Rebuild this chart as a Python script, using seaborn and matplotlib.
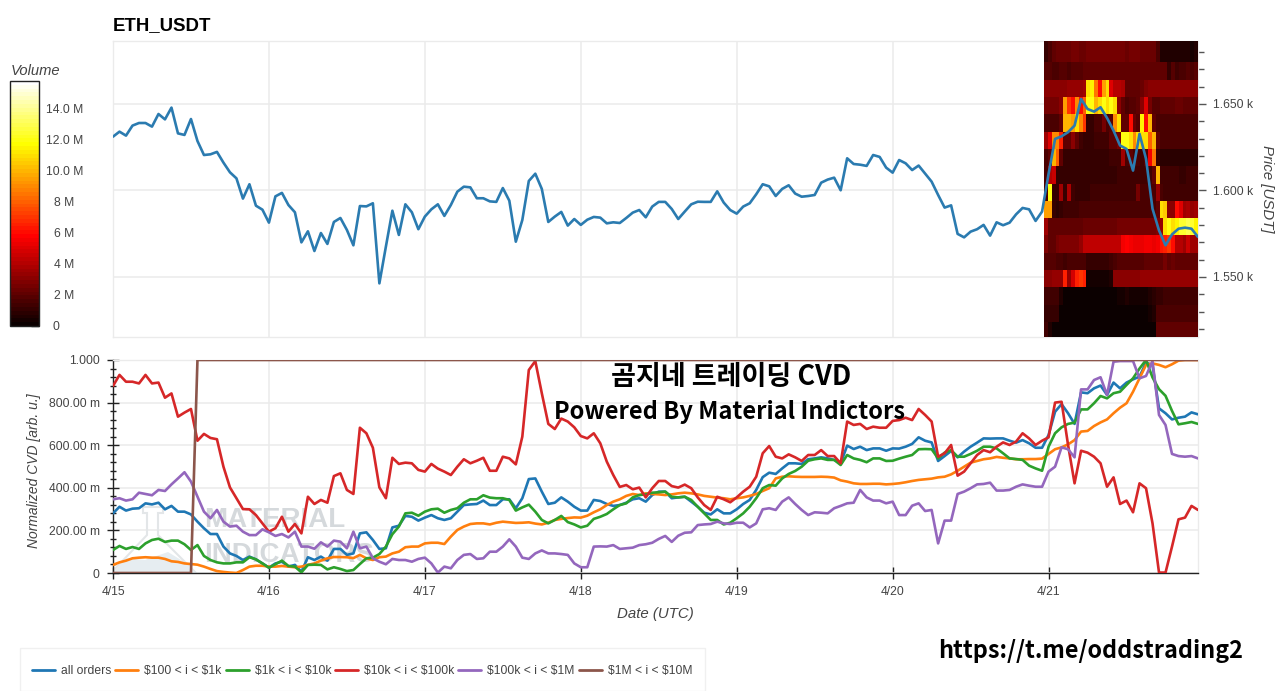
import numpy as np
import pandas as pd
import matplotlib
matplotlib.use('Agg')
import matplotlib.pyplot as plt
from matplotlib.patches import Polygon, Rectangle
from matplotlib.transforms import ScaledTranslation
import seaborn as sns

W, H = 1280, 691

sns.set_theme(style='white')
plt.rcParams['font.family'] = ['Liberation Sans', 'Noto Sans CJK KR', 'DejaVu Sans']

day_labels = ['4/15', '4/16', '4/17', '4/18', '4/19', '4/20', '4/21']

# hourly close, USDT
price = [
    1631.1, 1634.0, 1631.7, 1637.5, 1639.0, 1639.0, 1636.9, 1644.2, 1641.1, 1647.9, 1633.0, 1632.1,
    1641.3, 1628.6, 1620.5, 1620.9, 1622.3, 1616.1, 1610.5, 1607.0, 1595.3, 1603.6, 1591.2, 1588.9,
    1581.4, 1596.6, 1598.6, 1591.6, 1587.4, 1570.0, 1576.4, 1565.0, 1575.4, 1569.1, 1581.8, 1584.1,
    1577.2, 1568.3, 1591.0, 1590.8, 1592.6, 1546.3, 1567.5, 1588.3, 1574.3, 1592.0, 1587.4, 1577.6,
    1584.9, 1589.1, 1592.0, 1585.3, 1591.6, 1599.3, 1602.2, 1601.8, 1595.5, 1595.5, 1593.7, 1593.4,
    1601.4, 1594.1, 1570.4, 1582.9, 1605.5, 1609.7, 1600.9, 1581.8, 1584.9, 1587.6, 1579.7, 1583.5,
    1580.1, 1583.1, 1584.7, 1584.3, 1581.0, 1581.6, 1581.2, 1584.1, 1587.2, 1588.7, 1584.5, 1590.7,
    1593.4, 1593.4, 1589.3, 1583.5, 1587.8, 1592.0, 1593.5, 1593.4, 1593.4, 1599.5, 1593.0, 1588.7,
    1586.6, 1590.7, 1592.6, 1597.8, 1603.6, 1602.4, 1596.8, 1600.9, 1603.0, 1598.2, 1596.4, 1596.8,
    1597.4, 1604.5, 1606.3, 1607.4, 1600.1, 1618.6, 1615.3, 1614.9, 1614.2, 1620.5, 1619.4, 1613.2,
    1610.3, 1617.6, 1615.7, 1611.8, 1614.4, 1609.7, 1605.1, 1597.4, 1590.1, 1591.4, 1574.9, 1572.9,
    1576.2, 1577.6, 1580.1, 1573.9, 1581.6, 1579.9, 1581.4, 1586.2, 1589.9, 1589.1, 1582.4, 1587.8,
    1609.6, 1629.8, 1631.3, 1633.7, 1637.5, 1652.9, 1647.1, 1645.6, 1648.1, 1641.9, 1634.6, 1626.0,
    1624.0, 1611.5, 1632.7, 1618.3, 1589.4, 1576.9, 1568.3, 1574.6, 1577.9, 1578.5, 1577.9, 1573.1,
]

# normalized CVD, in milli units
all_orders = [
    280, 311, 293, 302, 304, 327, 322, 330, 299, 315, 288, 288, 275, 241, 210, 183, 183, 124, 92, 80, 61, 77, 64, 45,
    25, 45, 53, 30, 38, 6, 74, 61, 77, 58, 113, 113, 85, 92, 186, 191, 155, 113, 116, 214, 222, 268, 264, 246,
    260, 272, 257, 249, 257, 288, 319, 322, 324, 340, 319, 319, 346, 346, 304, 351, 441, 444, 382, 324, 330, 355, 335, 311,
    293, 293, 343, 338, 324, 315, 319, 330, 346, 351, 335, 366, 382, 382, 351, 355, 358, 335, 311, 283, 275, 299, 280, 280,
    299, 324, 343, 390, 450, 471, 465, 491, 515, 515, 512, 534, 538, 543, 538, 531, 515, 598, 582, 593, 577, 585, 585, 574,
    585, 584, 593, 606, 637, 621, 613, 526, 549, 573, 543, 570, 593, 612, 632, 631, 632, 632, 621, 612, 624, 609, 588, 588,
    648, 757, 793, 750, 700, 848, 844, 867, 880, 836, 894, 867, 894, 909, 922, 988, 975, 773, 750, 721, 729, 734, 754, 745,
]
band_100_1k = [
    38, 50, 58, 69, 72, 74, 72, 72, 66, 55, 52, 45, 42, 39, 30, 19, 9, 5, 2, 0, 14, 30, 34, 34,
    30, 30, 33, 30, 27, 30, 38, 45, 58, 69, 75, 75, 74, 70, 85, 69, 61, 74, 77, 92, 100, 121, 124, 124,
    139, 142, 142, 136, 171, 202, 218, 230, 233, 233, 228, 236, 241, 238, 235, 236, 238, 232, 228, 236, 249, 254, 258, 261,
    260, 269, 285, 299, 319, 335, 346, 362, 371, 366, 374, 371, 369, 366, 369, 374, 377, 374, 369, 362, 358, 354, 351, 346,
    351, 355, 362, 371, 385, 398, 444, 452, 454, 452, 451, 451, 451, 452, 451, 448, 435, 429, 421, 418, 418, 419, 419, 416,
    418, 421, 426, 432, 437, 440, 443, 449, 452, 463, 480, 499, 518, 526, 534, 538, 545, 541, 538, 534, 534, 535, 535, 537,
    559, 581, 590, 604, 624, 664, 667, 690, 707, 721, 750, 776, 797, 851, 914, 977, 984, 977, 966, 980, 997, 1000, 1000, 1000,
]
band_1k_10k = [
    108, 127, 113, 122, 113, 139, 155, 161, 146, 152, 152, 135, 108, 131, 80, 61, 50, 45, 45, 50, 50, 74, 64, 45,
    25, 41, 58, 33, 30, 3, 38, 39, 38, 17, 27, 19, 9, 14, 42, 69, 72, 89, 124, 182, 218, 280, 283, 269,
    288, 299, 302, 283, 296, 304, 330, 346, 346, 365, 354, 351, 351, 343, 293, 308, 321, 288, 249, 233, 249, 268, 239, 228,
    214, 222, 254, 264, 277, 299, 319, 327, 355, 366, 369, 377, 379, 382, 358, 355, 358, 343, 311, 280, 249, 249, 228, 236,
    257, 280, 311, 351, 398, 413, 410, 444, 465, 479, 499, 527, 534, 538, 531, 531, 507, 554, 538, 531, 520, 538, 538, 526,
    527, 537, 546, 554, 581, 582, 581, 538, 565, 577, 546, 546, 559, 574, 593, 593, 585, 562, 538, 535, 531, 504, 491, 480,
    593, 656, 684, 700, 706, 768, 768, 797, 831, 820, 844, 851, 883, 914, 960, 1000, 918, 863, 832, 761, 698, 703, 709, 700,
]
band_10k_100k = [
    878, 930, 898, 898, 890, 930, 890, 894, 823, 843, 734, 753, 770, 621, 653, 634, 628, 499, 402, 351, 300, 299, 272, 233,
    194, 210, 264, 194, 230, 186, 358, 324, 343, 330, 455, 468, 390, 371, 682, 656, 588, 402, 351, 541, 512, 518, 515, 484,
    476, 512, 490, 476, 460, 499, 534, 515, 527, 541, 480, 480, 546, 538, 510, 640, 953, 995, 844, 700, 676, 725, 711, 684,
    643, 632, 656, 609, 523, 460, 404, 413, 393, 401, 355, 398, 432, 432, 408, 401, 415, 398, 355, 319, 296, 358, 346, 332,
    355, 382, 405, 452, 562, 596, 546, 538, 557, 543, 526, 554, 554, 577, 549, 549, 515, 711, 695, 700, 676, 687, 682, 682,
    714, 718, 729, 718, 770, 742, 711, 546, 562, 601, 457, 476, 515, 554, 577, 567, 593, 613, 601, 617, 656, 632, 601, 621,
    637, 800, 804, 601, 421, 574, 565, 546, 515, 405, 449, 324, 340, 285, 421, 398, 233, 2, 2, 124, 252, 260, 315, 296,
]
band_100k_1m = [
    346, 351, 340, 346, 377, 371, 365, 390, 385, 416, 444, 473, 429, 358, 288, 257, 296, 241, 218, 222, 194, 178, 178, 205,
    191, 174, 183, 167, 194, 124, 124, 114, 144, 124, 152, 147, 116, 194, 116, 124, 69, 53, 41, 66, 61, 61, 53, 66,
    72, 45, 2, 30, 22, 61, 85, 89, 66, 69, 100, 100, 124, 158, 124, 72, 66, 92, 106, 92, 92, 89, 85, 45,
    27, 27, 124, 125, 124, 131, 113, 116, 119, 131, 135, 142, 160, 174, 146, 175, 189, 191, 225, 228, 230, 241, 233, 230,
    236, 236, 214, 233, 299, 304, 296, 335, 355, 324, 296, 272, 285, 283, 280, 304, 315, 327, 330, 390, 355, 340, 340, 327,
    335, 272, 272, 316, 327, 291, 296, 139, 246, 246, 371, 382, 398, 416, 418, 424, 387, 387, 390, 405, 416, 410, 405, 405,
    476, 499, 590, 581, 543, 862, 862, 906, 919, 836, 992, 995, 995, 995, 914, 925, 995, 742, 695, 559, 549, 546, 549, 538,
]
band_1m_10m = [0] * 13 + [1000] * 155

band_names = ['all orders', r'\$100 < i < \$1k', r'\$1k < i < \$10k',
              r'\$10k < i < \$100k', r'\$100k < i < \$1M', r'\$1M < i < \$10M']
band_colors = ['#1f77b4', '#ff7f0e', '#2ca02c', '#d62728', '#9467bd', '#8c564b']

# volume profile on the last day, M USDT, one row per 10 USDT bin from the top
vol_1675 = [1.0, 1.5, 2.2, 2.4, 2.4, 2.3, 2.4, 2.5, 2.5, 2.3, 2.3, 2.5, 2.5, 2.7, 2.7, 2.7, 2.6, 2.6, 2.5, 2.5,
            2.5, 2.3, 2.5, 2.5, 2.5, 2.4, 2.4, 2.4, 2.3, 1.5, 0.6, 0.5, 0.5, 0.6, 0.6, 0.6, 0.6, 0.6, 0.4, 0.5]
vol_1665 = [1.8, 1.8, 1.7, 1.7, 1.8, 1.8, 1.7, 1.8, 1.8, 1.9, 2.0, 2.1, 2.1, 2.0, 2.0, 2.0, 2.0, 2.1, 2.0, 2.0,
            2.0, 2.0, 2.0, 2.0, 2.1, 2.1, 2.1, 2.1, 2.1, 2.0, 2.0, 2.0, 1.2, 1.8, 1.3, 1.5, 1.6, 1.8, 1.5, 1.8]
vol_1655 = [3.0, 3.0, 3.0, 3.0, 3.0, 3.0, 3.2, 3.2, 3.2, 3.2, 3.5, 11, 11.5, 8.5, 6.0, 9.5, 11, 5.0, 4.0, 4.0,
            3.8, 2.0, 2.0, 2.0, 2.2, 2.4, 2.8, 3.0, 3.0, 3.0, 3.0, 3.0, 3.0, 3.0, 3.0, 3.0, 3.0, 3.0, 3.0, 3.0]
vol_1645 = [2.5, 2.6, 2.6, 2.6, 3.0, 9.5, 7, 6, 9, 6, 8, 12, 12, 10, 11, 12, 11, 12, 11, 3.0,
            2.0, 1.5, 1.8, 1.8, 2.0, 3.0, 5.0, 2.5, 1.8, 1.8, 2.2, 2.2, 2.2, 2.2, 2.3, 2.4, 2.2, 2.2, 2.2, 2.2]
vol_1635 = [1.5, 1.5, 1.5, 1.6, 2.0, 10, 10, 9.5, 11, 9, 7, 1.2, 1.2, 1.5, 1.5, 2.5, 1.5, 1.8, 9, 11,
            2.2, 2.2, 6, 2.4, 1.8, 11.5, 6, 10, 2.0, 1.6, 1.6, 1.6, 1.6, 1.6, 1.6, 1.6, 1.6, 1.6, 1.6, 1.6]
vol_1625 = [3.5, 5, 9, 9, 6.5, 2.2, 2.0, 3.0, 2.0, 1.3, 1.2, 1.2, 1.2, 1.3, 1.3, 1.3, 1.3, 2.0, 2.2, 2.5,
            12, 12, 11, 9, 11, 11, 11, 8, 10, 2, 1.5, 1.5, 1.5, 1.5, 1.5, 1.5, 1.5, 1.5, 1.5, 1.5]
vol_1615 = [1.5, 2.0, 10, 8, 2.0, 1.2, 1.2, 1.2, 1.2, 1.2, 1.2, 1.2, 1.2, 1.2, 1.2, 1.2, 1.2, 1.3, 1.3, 1.4,
            3.5, 1.5, 2.0, 1.5, 1.5, 1.4, 1.8, 5.5, 8.5, 1.2, 0.9, 0.9, 0.9, 0.9, 0.9, 0.9, 0.9, 0.9, 0.9, 0.9]
vol_1605 = [1.5, 4, 4.5, 1.0, 1.0, 1.2, 1.1, 1.1, 1.1, 1.1, 1.2, 1.2, 1.2, 1.2, 1.2, 1.2, 1.2, 1.2, 1.2, 1.3,
            1.3, 1.3, 1.3, 1.3, 1.3, 1.3, 1.3, 1.3, 2.0, 10, 1.3, 1.3, 1.3, 1.3, 1.3, 1.2, 1.2, 1.3, 1.3, 1.3]
vol_1595 = [1.5, 12, 1.0, 1.0, 3.5, 1.0, 3.8, 1.4, 1.2, 1.2, 1.2, 1.2, 1.3, 1.3, 1.3, 1.3, 1.3, 1.4, 1.4, 1.4,
            1.4, 1.4, 1.4, 1.4, 2.6, 1.6, 1.6, 1.6, 1.6, 3.2, 1.5, 1.3, 1.3, 1.4, 1.4, 1.4, 1.3, 1.3, 1.3, 1.3]
vol_1585 = [9.5, 9.5, 1.0, 0.8, 1.2, 1.3, 1.4, 1.4, 1.4, 1.5, 1.5, 1.5, 1.5, 1.5, 1.5, 1.6, 1.6, 1.6, 1.6, 1.6,
            1.6, 1.6, 1.6, 1.6, 1.6, 1.6, 1.6, 1.7, 1.7, 2.0, 11, 10.5, 3.0, 3.0, 6, 5, 3.5, 3.8, 3.2, 3.5]
vol_1575 = [3.5, 2.2, 2.2, 2.2, 2.2, 2.2, 2.2, 2.2, 2.2, 2.2, 2.4, 2.4, 2.4, 2.4, 2.4, 2.4, 2.4, 2.4, 2.4, 2.5,
            2.5, 2.5, 2.5, 2.5, 2.5, 2.5, 2.6, 2.6, 2.7, 2.8, 3.2, 11, 12, 11, 11.5, 12.5, 12.5, 13, 12.5, 11.5]
vol_1565 = [2.8, 2.0, 2.2, 2.6, 2.8, 2.8, 2.8, 2.8, 2.8, 3.2, 4.2, 4.3, 4.3, 4.3, 4.3, 4.2, 4.2, 4.2, 4.3, 4.4,
            5.6, 5.8, 5.6, 5.4, 5.4, 5.4, 5.5, 5.5, 5.3, 5.5, 6.2, 6.5, 7, 6, 4, 4, 3.5, 4.5, 3.5, 3.5]
vol_1555 = [1.8, 1.8, 1.8, 1.5, 1.5, 1.4, 1.5, 1.5, 1.5, 1.5, 1.5, 1.0, 1.0, 1.0, 1.1, 1.1, 1.0, 1.4, 1.7, 1.8,
            1.8, 1.8, 1.8, 1.9, 1.9, 1.9, 2.0, 2.0, 2.0, 2.0, 2.2, 2.5, 2.2, 2.4, 2.2, 2.2, 2.0, 2.2, 2.0, 2.0]
vol_1545 = [3.0, 3.0, 3.2, 3.2, 3.2, 6.5, 3.2, 4.8, 6.5, 7, 6.5, 0.4, 0.3, 0.3, 0.3, 0.3, 0.4, 0.5, 3.0, 3.0,
            3.0, 3.0, 3.1, 3.1, 3.1, 3.2, 3.2, 3.2, 3.3, 3.3, 3.3, 3.3, 3.3, 3.4, 3.4, 3.4, 3.3, 3.3, 3.3, 3.3]
vol_1535 = [1.3, 1.3, 1.3, 1.3, 0.6, 0.15, 0.15, 0.15, 0.15, 0.15, 0.15, 0.15, 0.15, 0.15, 0.15, 0.15, 0.15, 0.15, 0.2, 0.3,
            0.4, 0.5, 0.3, 0.4, 0.3, 0.4, 0.3, 0.5, 0.8, 1.2, 1.2, 1.3, 1.3, 1.3, 1.3, 1.3, 1.3, 1.3, 1.3, 1.3]
vol_1525 = [1.2, 1.2, 1.2, 1.2, 0.2, 0.1, 0.1, 0.1, 0.1, 0.1, 0.1, 0.1, 0.1, 0.1, 0.1, 0.1, 0.1, 0.1, 0.1, 0.1,
            0.1, 0.1, 0.1, 0.1, 0.1, 0.1, 0.1, 0.3, 0.6, 1.6, 1.6, 1.6, 1.6, 1.6, 1.6, 1.6, 1.6, 1.6, 1.6, 1.6]
vol_1515 = [1.3, 0.6, 0.1, 0.1, 0.1, 0.1, 0.1, 0.1, 0.1, 0.1, 0.1, 0.1, 0.1, 0.1, 0.1, 0.1, 0.1, 0.1, 0.1, 0.1,
            0.1, 0.1, 0.1, 0.1, 0.1, 0.1, 0.1, 0.1, 0.15, 2.0, 2.0, 2.0, 2.0, 2.0, 2.0, 2.0, 2.0, 2.0, 2.0, 2.0]

volume = [vol_1675, vol_1675, vol_1665, vol_1655, vol_1645, vol_1635, vol_1625, vol_1615, vol_1605,
          vol_1595, vol_1585, vol_1575, vol_1565, vol_1555, vol_1545, vol_1535, vol_1525, vol_1515]

hours = np.arange(len(price))
GREY = '#444444'
LIGHT = '#ebebeb'
TICK = 8.7


def box(left, top, right, bottom):
    # pixel box of the screenshot to figure fractions
    return [left / W, 1 - bottom / H, (right - left) / W, (bottom - top) / H]


fig = plt.figure(figsize=(W / 100, H / 100), dpi=100)

# price panel: grid below, heatmap in the middle, line on top
ax_price = fig.add_axes(box(113, 41, 1198, 337), zorder=1)
ax_heat = fig.add_axes(box(1044, 41, 1198, 337), zorder=2)
ax_line = fig.add_axes(box(113, 41, 1198, 337), zorder=3)
ax_cbar = fig.add_axes(box(10, 81, 39, 326), zorder=4)
ax_cvd = fig.add_axes(box(113, 360, 1198, 573), zorder=1)

y_low, y_high = 1515.3, 1686.4

ax_price.set_xlim(0, 167)
ax_price.set_ylim(y_low, y_high)
ax_price.set_xticks(hours[::24])
ax_price.set_xticklabels([])
ax_price.set_yticks([1550, 1600, 1650])
ax_price.set_yticklabels(['1.550 k', '1.600 k', '1.650 k'], fontsize=TICK, color=GREY)
ax_price.set_yticks(np.arange(1520, 1690, 10), minor=True)
ax_price.yaxis.tick_right()
ax_price.yaxis.set_label_position('right')
ax_price.tick_params(axis='y', which='major', length=6, width=1, color='#555555', right=True, pad=5)
ax_price.tick_params(axis='y', which='minor', length=4, width=1, color='#555555', right=True)
ax_price.tick_params(axis='x', length=0)
ax_price.grid(True, which='major', color=LIGHT, linewidth=1.1)
ax_price.set_axisbelow(True)
ax_price.set_ylabel('Price [USDT]', fontsize=10.8, style='italic', color=GREY, rotation=-90, labelpad=15)
for s in ax_price.spines.values():
    s.set_color(LIGHT)
    s.set_linewidth(1)
ax_price.text(0, 1.024, 'ETH_USDT', transform=ax_price.transAxes, fontsize=13.4,
              fontweight='bold', color='black', va='bottom', ha='left')

hot = plt.get_cmap('hot', 64)
sns.heatmap(np.array(volume), ax=ax_heat, cmap=hot, vmin=0, vmax=15.75, cbar_ax=ax_cbar,
            xticklabels=False, yticklabels=False)
ax_heat.set_ylim((1694 - y_low) / 10, (1694 - y_high) / 10)
ax_heat.axis('off')

cbar = ax_heat.collections[0].colorbar
cbar.set_ticks([0, 2, 4, 6, 8, 10, 12, 14],
               labels=['0', '2 M', '4 M', '6 M', '8 M', '10.0 M', '12.0 M', '14.0 M'])
cbar.outline.set_edgecolor('#222222')
cbar.outline.set_linewidth(1)
cbar.outline.set_visible(True)
ax_cbar.tick_params(axis='y', direction='in', length=6, width=1, color='#222222', labelsize=TICK,
                    labelcolor=GREY, right=True, left=False, pad=0)
for lab in ax_cbar.get_yticklabels():
    lab.set_ha('center')
    shift = 16.5 if lab.get_text() == '0' else 25.5
    lab.set_transform(lab.get_transform() + ScaledTranslation(shift / 100, 0, fig.dpi_scale_trans))
ax_cbar.set_title('Volume', fontsize=10.6, style='italic', color=GREY, loc='left', pad=4, x=0.03)

sns.lineplot(x=hours, y=price, ax=ax_line, color='#2b7bb0', linewidth=1.9, estimator=None, legend=False)
ax_line.set_xlim(0, 167)
ax_line.set_ylim(y_low, y_high)
ax_line.axis('off')

# CVD panel
cvd_wide = pd.DataFrame({
    'hour': hours,
    band_names[0]: all_orders,
    band_names[1]: band_100_1k,
    band_names[2]: band_1k_10k,
    band_names[3]: band_10k_100k,
    band_names[4]: band_100k_1m,
    band_names[5]: band_1m_10m,
})
cvd_long = cvd_wide.melt(id_vars='hour', var_name='band', value_name='cvd')

ax_cvd.set_axisbelow(True)
sns.lineplot(data=cvd_long, x='hour', y='cvd', hue='band', hue_order=band_names, palette=band_colors,
             ax=ax_cvd, linewidth=1.9, estimator=None, zorder=3)
handles, labels = ax_cvd.get_legend_handles_labels()
ax_cvd.get_legend().remove()

ax_cvd.set_xlim(0, 167)
ax_cvd.set_ylim(0, 1000)
ax_cvd.set_xticks(hours[::24])
ax_cvd.set_xticklabels(day_labels, fontsize=TICK, color=GREY)
ax_cvd.set_yticks([0, 200, 400, 600, 800, 1000])
ax_cvd.set_yticklabels(['0', '200.00 m', '400.00 m', '600.00 m', '800.00 m', '1.000'], fontsize=TICK, color=GREY)
ax_cvd.set_yticks(np.arange(0, 1001, 40), minor=True)
ax_cvd.tick_params(axis='y', which='major', direction='inout', length=9, width=1, color='#222222', left=True, pad=5)
ax_cvd.tick_params(axis='y', which='minor', direction='inout', length=5, width=1, color='#222222', left=True)
ax_cvd.tick_params(axis='x', which='major', direction='inout', length=9, width=1, color='#222222', bottom=True, pad=5)
ax_cvd.grid(True, which='major', color=LIGHT, linewidth=1.1)
ax_cvd.set_xlabel('Date (UTC)', fontsize=10.8, style='italic', color=GREY, labelpad=6)
ax_cvd.set_ylabel('Normalized CVD [arb. u.]', fontsize=10, style='italic', color=GREY)
ax_cvd.yaxis.set_label_coords(-0.066, 0.48)
for side, s in ax_cvd.spines.items():
    s.set_color('#222222' if side in ('left', 'bottom') else LIGHT)
    s.set_linewidth(1)

# faded logo behind the lines
flask = [(143, 507), (163, 507), (163, 513), (158, 513), (158, 535), (196, 573), (113, 573), (113, 571),
         (147, 535), (147, 513), (143, 513)]
flask_water = [(125, 558), (145, 560), (168, 552), (186, 563), (196, 573), (113, 573)]
ax_cvd.add_patch(Polygon([(x / W, 1 - y / H) for x, y in flask], closed=True, transform=fig.transFigure,
                         facecolor='none', edgecolor='#e3e6e8', linewidth=1.5, zorder=1))
ax_cvd.add_patch(Polygon([(x / W, 1 - y / H) for x, y in flask_water], closed=True, transform=fig.transFigure,
                         facecolor='#e6edf1', edgecolor='none', zorder=1))
ax_cvd.text(204 / W, 1 - 520 / H, 'MATERIAL', transform=fig.transFigure, fontsize=20, fontweight='bold',
            color='#d5d9dc', va='center', ha='left', zorder=1)
ax_cvd.text(204 / W, 1 - 555 / H, 'INDICATORS', transform=fig.transFigure, fontsize=20, fontweight='bold',
            color='#d5d9dc', va='center', ha='left', zorder=1)

# pasted captions
kr = ['Noto Sans CJK KR', 'DejaVu Sans']
fig.text(731 / W, 1 - 377 / H, '곰지네 트레이딩 CVD', family=kr, fontsize=19.5, fontweight='bold',
         color='black', ha='center', va='center', zorder=10)
fig.text(729 / W, 1 - 412 / H, 'Powered By Material Indictors', family=kr, fontsize=17, fontweight='bold',
         color='black', ha='center', va='center', zorder=10)
fig.text(1091 / W, 1 - 651 / H, 'https://t.me/oddstrading2', family=kr, fontsize=16.8, fontweight='bold',
         color='black', ha='center', va='center', zorder=10)

# legend box runs off the bottom of the screenshot
fig.add_artist(Rectangle((20 / W, 0), 685 / W, 1 - 648 / H, transform=fig.transFigure,
                         facecolor='white', edgecolor='#f0f0f0', linewidth=1))
leg = fig.legend(handles, labels, loc='center left', bbox_to_anchor=(32 / W, 1 - 671 / H), ncol=6,
                 fontsize=TICK, frameon=False, handlelength=1.9, handletextpad=0.5, columnspacing=0.33,
                 borderpad=0, borderaxespad=0, labelcolor=GREY)
for line in leg.get_lines():
    line.set_linewidth(2)

fig.savefig('out.png', dpi=100)
